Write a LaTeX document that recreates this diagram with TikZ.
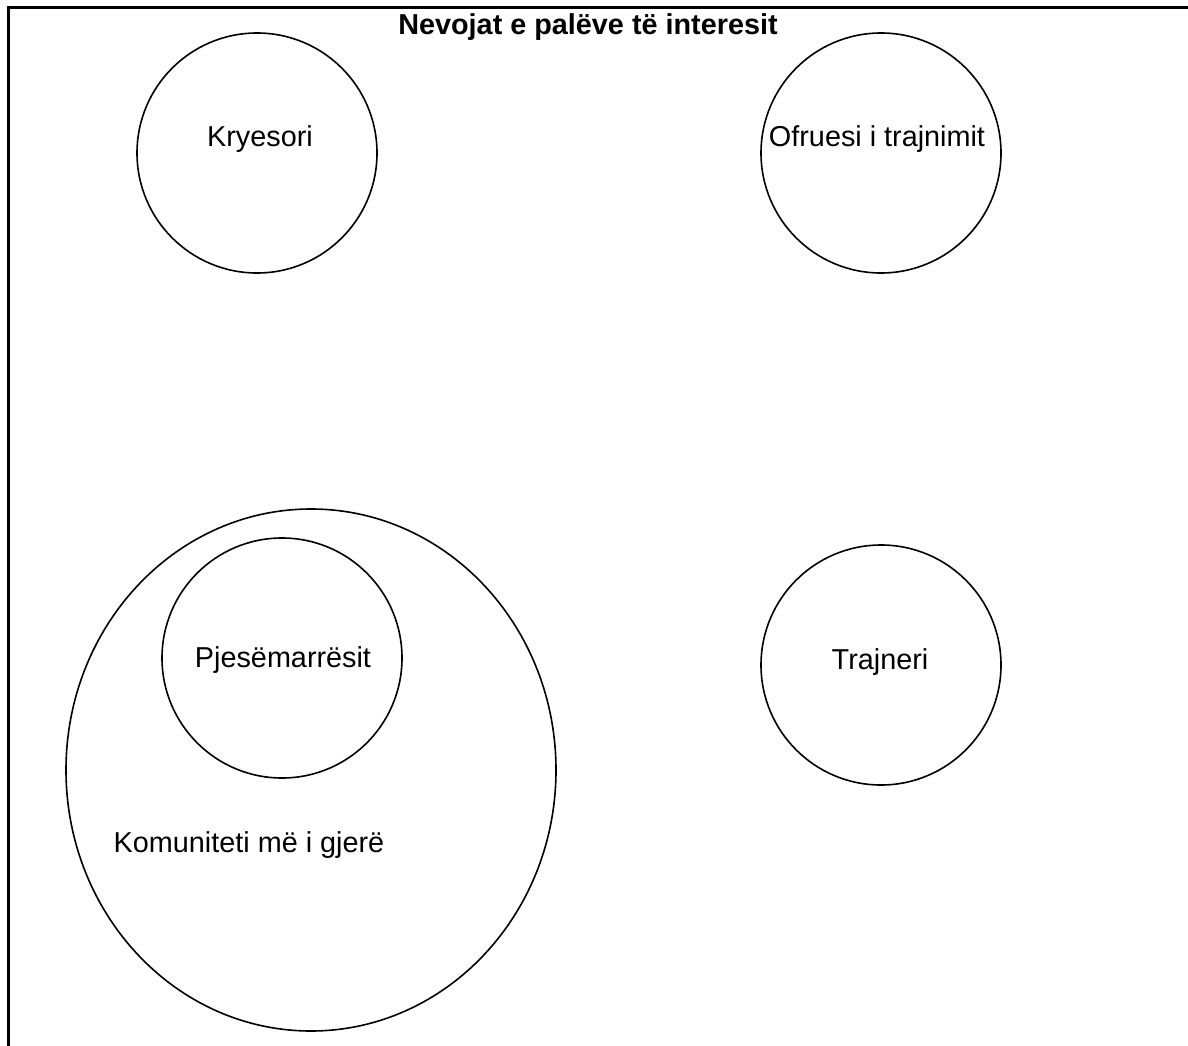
\documentclass[tikz,border=0pt]{standalone}
\usepackage{fontspec}
\setmainfont{Liberation Sans}
\usetikzlibrary{shapes.geometric}
\begin{document}
\begin{tikzpicture}[x=1pt,y=-1pt,
  party/.style={draw, circle, line width=1.6pt, minimum size=240pt, inner sep=0pt},
  group/.style={draw, ellipse, line width=1.6pt, minimum width=490pt, minimum height=522pt, inner sep=0pt},
  lbl/.style={font=\fontsize{28.8}{34}\selectfont, inner sep=0pt},
  ttl/.style={font=\fontsize{28.8}{34}\selectfont\bfseries, inner sep=0pt}]
\useasboundingbox (0,0) rectangle (1188,1046);
% frame: top edge and left edge
\draw[line width=3pt] (8,1046) -- (8,7.5) -- (1188,7.5);
\node[ttl] (title) at (588,27) {Nevojat e palëve të interesit};
% stakeholder circles
\node[party] (kryesori) at (257,153) {};
\node[party] (ofruesi) at (881,153) {};
\node[party] (trajneri) at (881,665) {};
\node[group] (komuniteti) at (311,770) {};
\node[party] (pjes) at (282,658) {};
% labels
\node[lbl] (tk) at (260,139) {Kryesori};
\node[lbl] (to) at (877,139) {Ofruesi i trajnimit};
\node[lbl] (tt) at (880,662) {Trajneri};
\node[lbl] (tp) at (283,660) {Pjesëmarrësit};
\node[lbl] (tkom) at (249,845) {Komuniteti më i gjerë};
\end{tikzpicture}
\end{document}
